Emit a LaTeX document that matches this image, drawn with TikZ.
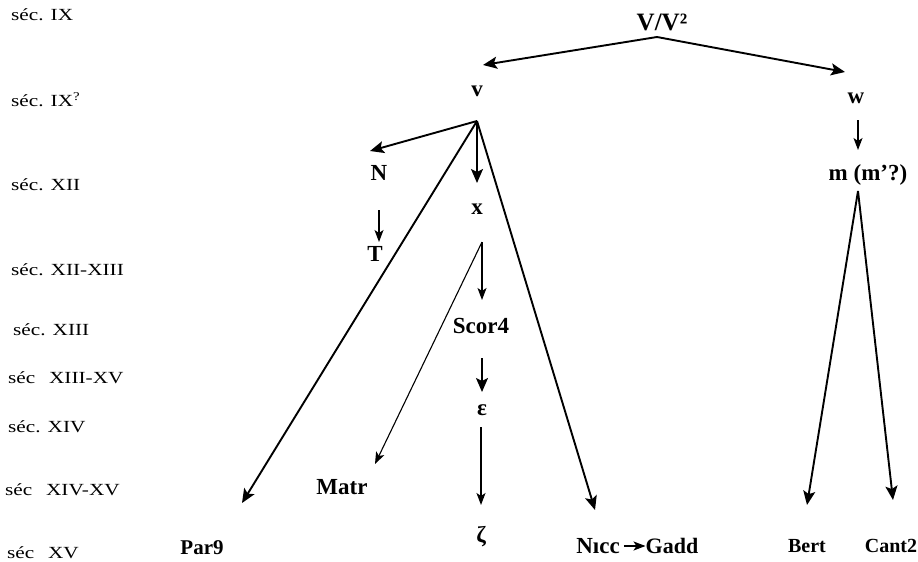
\documentclass[tikz,border=0pt]{standalone}
\usepackage{fontspec}
\setmainfont{Liberation Serif}
\newfontfamily\labfont[FakeStretch=1.25]{Liberation Serif}
\usetikzlibrary{arrows.meta}
\begin{document}
\begin{tikzpicture}[x=1pt,y=-1pt,
  lab/.style={anchor=west,inner sep=0pt,font=\labfont\fontsize{17}{17}\selectfont},
  nd/.style={inner sep=0pt,font=\bfseries\fontsize{23}{23}\selectfont},
  sm/.style={font=\bfseries\fontsize{20}{20}\selectfont},
  arr/.style={line width=1.9pt,-{Stealth[length=14pt,width=12pt,inset=3pt]}},
  tarr/.style={line width=1.1pt,-{Stealth[length=12pt,width=9pt,inset=3pt]}}]
\useasboundingbox (0,0) rectangle (918,562);
% century labels
\node[lab] (c1) at (11,15) {séc. IX};
\node[lab] (c2) at (11,100) {séc. IX\textsuperscript{?}};
\node[lab] (c3) at (11,185) {séc. XII};
\node[lab] (c4) at (11,270) {séc. XII-XIII};
\node[lab] (c5) at (13,330) {séc. XIII};
\node[lab] (c6) at (8,378) {séc\hspace{0.5em} XIII-XV};
\node[lab] (c7) at (8,427) {séc. XIV};
\node[lab] (c8) at (5,490) {séc\hspace{0.5em} XIV-XV};
\node[lab] (c9) at (7,553) {séc\hspace{0.5em} XV};
% nodes
\node[nd,font=\bfseries\fontsize{25}{25}\selectfont] (VV) at (662,22) {V/V²};
\node[nd] (v) at (477,91) {v};
\node[nd] (w) at (856,98) {w};
\node[nd] (N) at (379,173) {N};
\node[nd] (T) at (375,254) {T};
\node[nd] (x) at (477,209) {x};
\node[nd] (m) at (868,175) {m (m'?)};
\node[nd] (Scor) at (481,326) {Scor4};
\node[nd] (eps) at (482,410) {ε};
\node[nd] (zeta) at (481,537) {ζ};
\node[nd] (Matr) at (342,487) {Matr};
\node[nd,font=\bfseries\fontsize{21}{21}\selectfont] (Par) at (202,548) {Par9};
\node[nd] (Nicc) at (598,546) {Nıcc};
\node[nd,font=\bfseries\fontsize{22}{22}\selectfont] (Gadd) at (672,546) {Gadd};
\node[nd,sm] (Bert) at (807,546) {Bert};
\node[nd,sm] (Cant) at (891,546) {Cant2};
% branch points and arrow tips
\coordinate (VVa) at (657,37);
\coordinate (tv) at (483,65);
\coordinate (tw) at (845,72);
\coordinate (vA) at (477,121);
\coordinate (tN) at (370,151);
\coordinate (tx) at (477,183);
\coordinate (tPar) at (242,503);
\coordinate (tNicc) at (595,510);
\coordinate (NA) at (379,210);
\coordinate (tT) at (379,242);
\coordinate (xA) at (482,242);
\coordinate (tScor) at (482,300);
\coordinate (tMatr) at (375,464);
\coordinate (SA) at (482,358);
\coordinate (teps) at (482,392);
\coordinate (eA) at (481,427);
\coordinate (tzeta) at (481,505);
\coordinate (wA) at (858,120);
\coordinate (tm) at (858,150);
\coordinate (mA) at (858,191);
\coordinate (tBert) at (807,505);
\coordinate (tCant) at (893,500);
% connectors
\draw[arr] (VVa) -- (tv);
\draw[arr] (VVa) -- (tw);
\draw[arr] (vA) -- (tN);
\draw[arr] (vA) -- (tx);
\draw[arr] (vA) -- (tPar);
\draw[arr] (vA) -- (tNicc);
\draw[tarr] (NA) -- (tT);
\draw[tarr] (xA) -- (tScor);
\draw[tarr] (xA) -- (tMatr);
\draw[arr] (SA) -- (teps);
\draw[tarr,line width=1.5pt] (eA) -- (tzeta);
\draw[tarr,line width=1.4pt] (wA) -- (tm);
\draw[arr] (mA) -- (tBert);
\draw[arr] (mA) -- (tCant);
\draw[tarr,line width=1.4pt,shorten <=4pt] (Nicc) -- (Gadd);
\end{tikzpicture}
\end{document}
